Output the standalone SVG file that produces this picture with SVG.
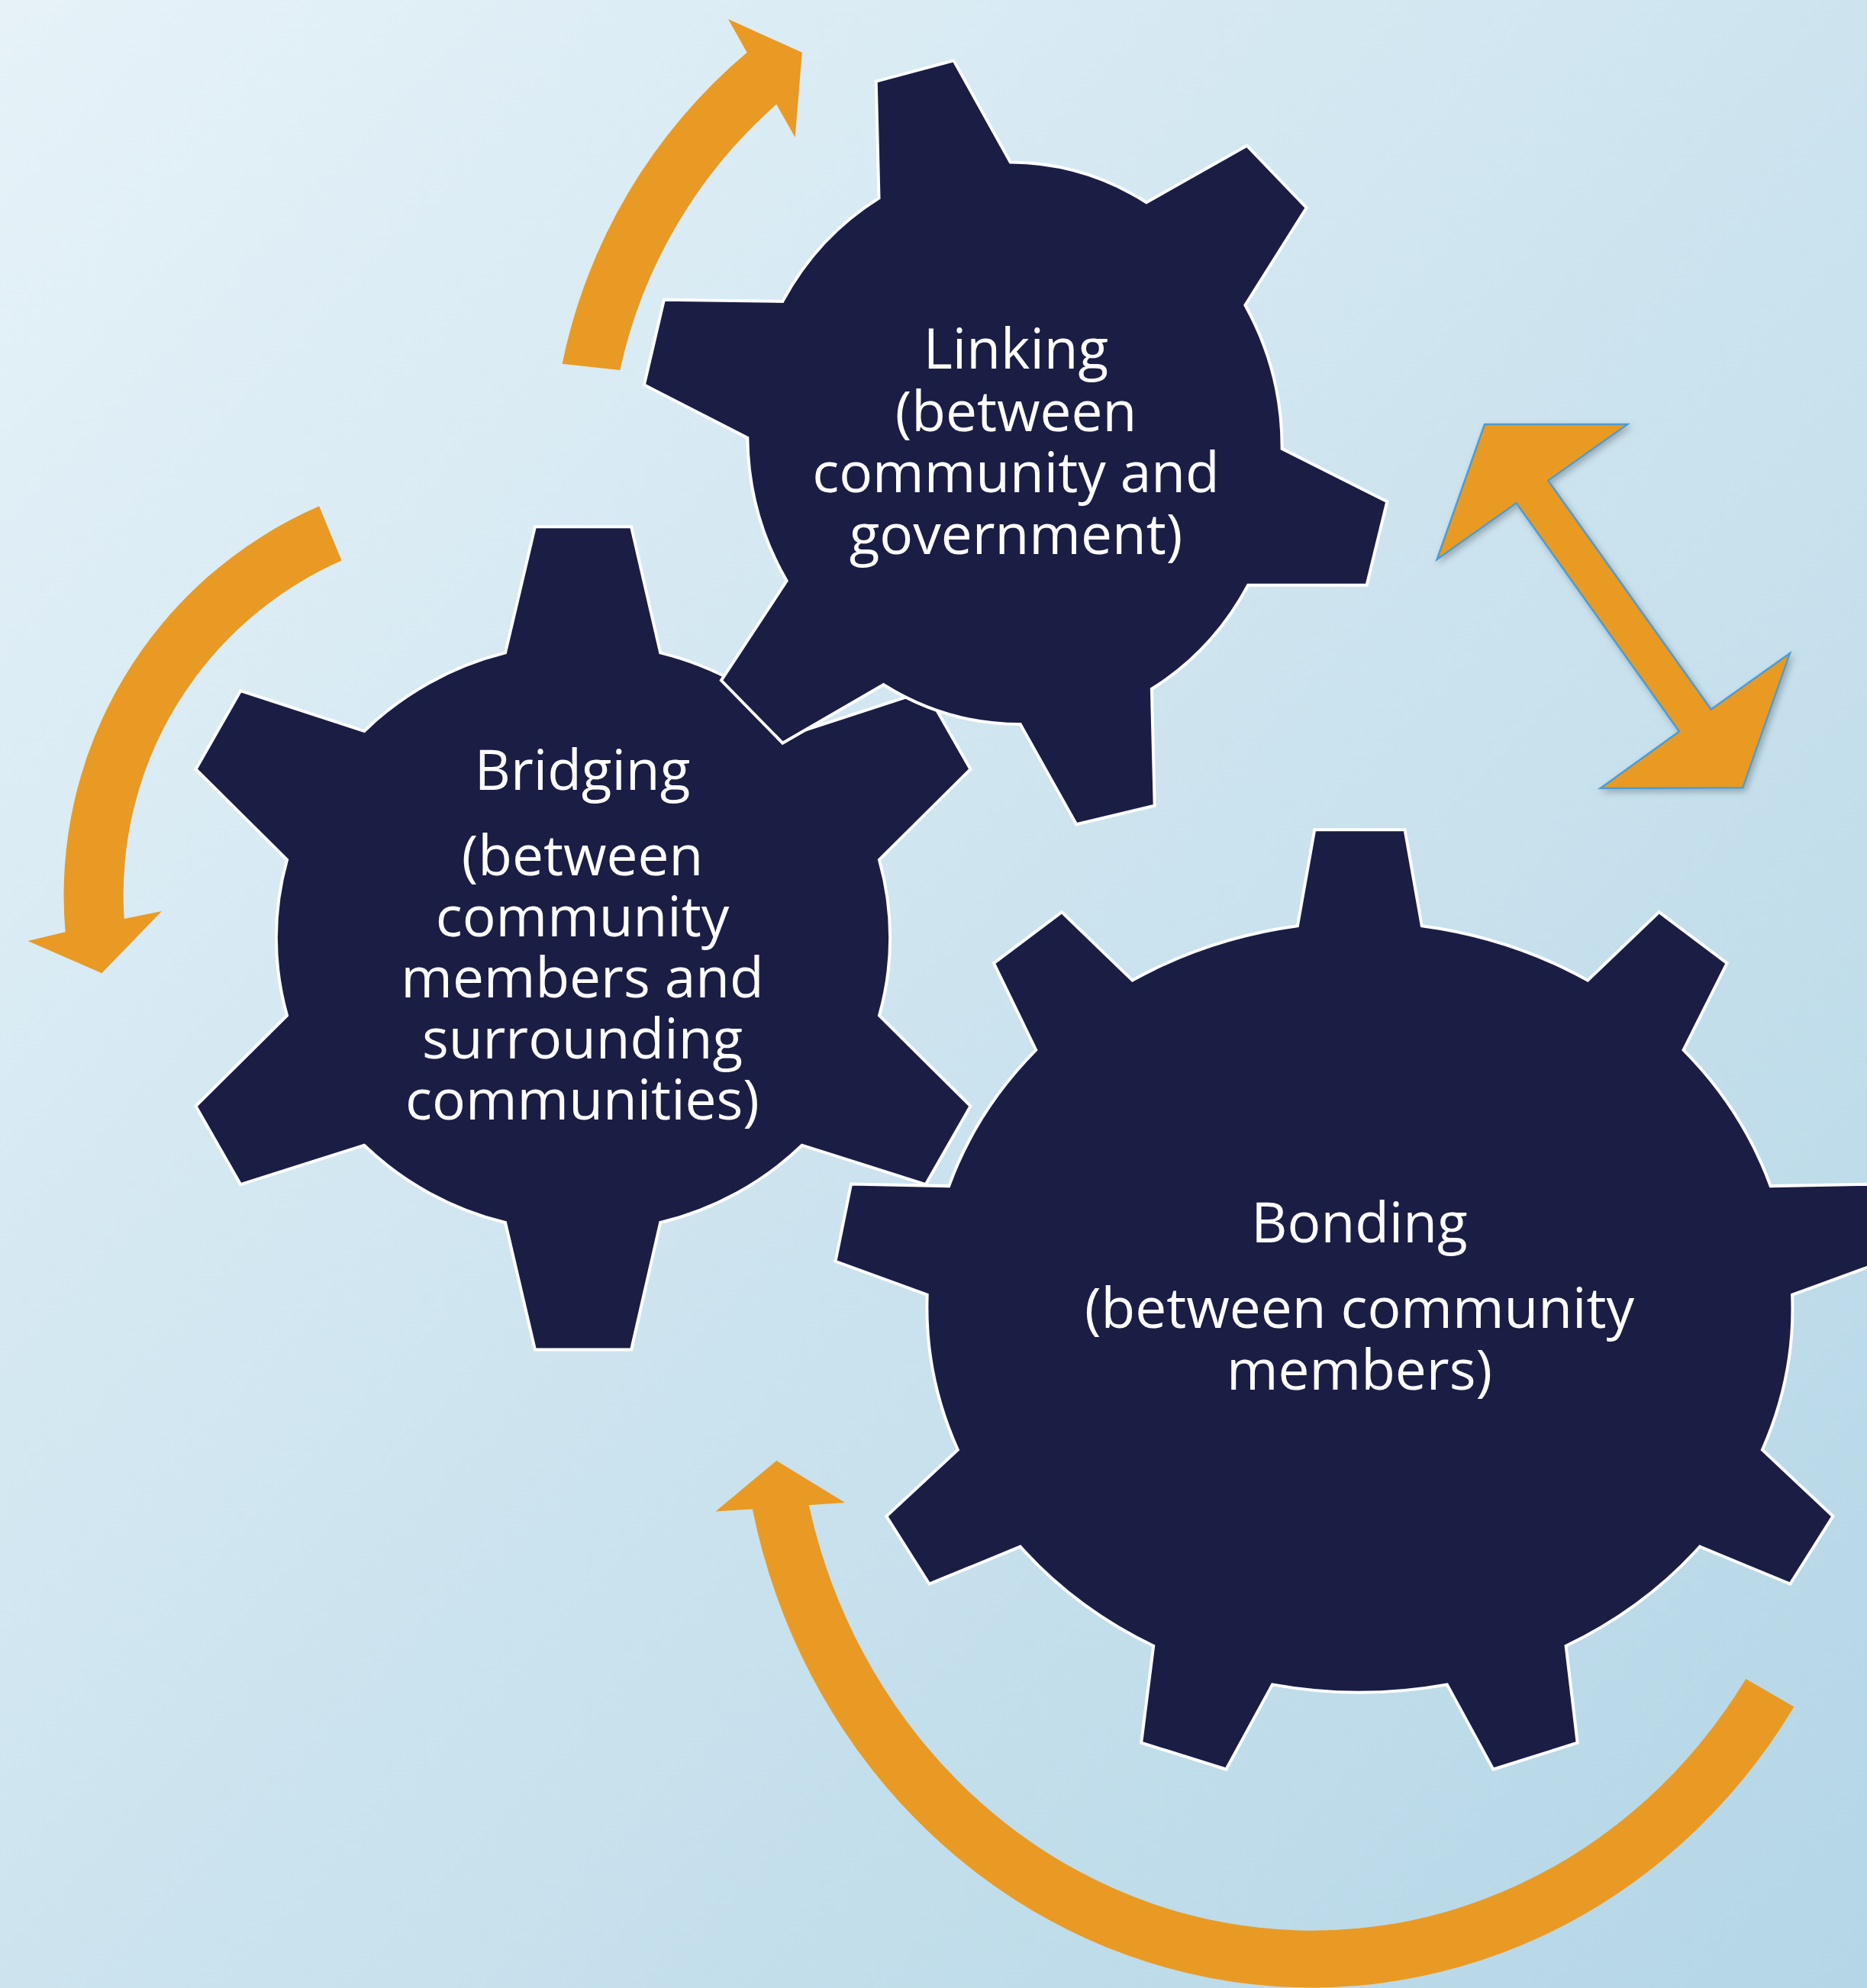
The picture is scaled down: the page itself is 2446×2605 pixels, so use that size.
<svg xmlns="http://www.w3.org/2000/svg" width="2446" height="2605" viewBox="0 0 2446 2605">
<defs>
<linearGradient id="bg" x1="0" y1="0" x2="1" y2="1">
<stop offset="0" stop-color="#E6F2F8"/>
<stop offset="1" stop-color="#B4D6E6"/>
</linearGradient>
<filter id="sh" x="-10%" y="-10%" width="130%" height="130%">
<feDropShadow dx="3" dy="4" stdDeviation="4" flood-color="#000" flood-opacity="0.25"/>
</filter>
<style>
.gear{fill:#1A1E45;stroke:#FFFFFF;stroke-width:4;stroke-linejoin:miter}
.arrow{fill:#E99A24}
.darrow{fill:#E99A24;stroke:#4F9BD0;stroke-width:2.5;filter:url(#sh)}
.lbl{font-family:"Open Sans","Noto Sans","Liberation Sans",sans-serif;font-size:73px;fill:#FFFFFF;text-anchor:middle}
</style>
</defs>
<rect x="0" y="0" width="2446" height="2605" fill="url(#bg)"/>

<g id="connectors">
<path id="arrow-top" class="arrow" d="M 736.6 476.7 A 724 724 0 0 1 978.6 68.8 L 954 24.9 L 1050.8 68.8 L 1041.7 179.9 L 1017.2 136.8 A 648 648 0 0 0 812.3 485 Z"/>
<path id="arrow-left" class="arrow" d="M 418.1 663.3 A 556 556 0 0 0 85.6 1221.3 L 36.5 1232.9 L 133.3 1275.2 L 211.9 1193.9 L 162.7 1203.9 A 478.5 478.5 0 0 1 447.6 734.6 Z"/>
<path id="arrow-bottom" class="arrow" d="M 1059.7 1972.3 L 1107 1968.9 L 1017.3 1914 L 937.5 1980.5 L 985.8 1977.6 A 749 793 0 0 0 2350.4 2236.6 L 2287.3 2200 A 677 722 0 0 1 1059.7 1972.3 Z"/>
<path id="arrow-double" class="darrow" d="M 1945 556.1 L 2132.3 556.1 L 2028.3 629.8 L 2241.7 929.4 L 2345 856.1 L 2283.3 1032.2 L 2096.7 1032.9 L 2200 958.5 L 1986.7 659.3 L 1882.7 732.9 Z"/>
</g>

<g id="gear-bonding">
<path class="gear" d="M 1722.2 1087.3 L 1840.6 1087.3 L 1862.8 1213.3 A 570 505 0 0 1 2080.1 1284.6 L 2173.6 1195.1 L 2262.6 1262.2 L 2205.6 1375.8 A 570 505 0 0 1 2319.6 1554.1 L 2447.8 1551.6 L 2468.3 1652.8 L 2348.1 1696.7 A 570 505 0 0 1 2308.9 1899.8 L 2401.4 1986.9 L 2345.4 2075.6 L 2227 2026.7 A 570 505 0 0 1 2051.6 2156.8 L 2066.7 2283.7 L 1956.3 2318.5 L 1895.8 2207.4 A 570 505 0 0 1 1667 2207.4 L 1606.4 2318.5 L 1495.2 2283.7 L 1511.2 2156.8 A 570 505 0 0 1 1336.7 2026.7 L 1217.4 2075.6 L 1161.3 1986.9 L 1254.8 1899.8 A 570 505 0 0 1 1214.7 1696.7 L 1094.5 1652.8 L 1115 1551.6 L 1243.2 1554.1 A 570 505 0 0 1 1357.2 1375.8 L 1302 1262.2 L 1391 1195.1 L 1483.6 1284.6 A 570 505 0 0 1 1699.9 1213.3 Z"/>
<text class="lbl" x="1781" y="1628">Bonding</text>
<text class="lbl" x="1781" y="1740">(between community</text>
<text class="lbl" x="1781" y="1821">members)</text>
</g>

<g id="gear-bridging">
<path class="gear" d="M 700.9 690.3 L 827.1 690.3 L 865.2 855.4 A 401 387 0 0 1 1050.7 958 L 1212.8 905.2 L 1271.5 1007.9 L 1152 1126.7 A 401 387 0 0 1 1152 1330.6 L 1271.5 1449.4 L 1212.8 1552.1 L 1050.7 1500.7 A 401 387 0 0 1 865.2 1602 L 827.1 1768.4 L 700.9 1768.4 L 662 1602 A 401 387 0 0 1 477.2 1500.7 L 315.1 1552.1 L 256.5 1449.4 L 376 1330.6 A 401 387 0 0 1 376 1126.7 L 256.5 1007.9 L 315.1 905.2 L 477.2 958 A 401 387 0 0 1 662 855.4 Z"/>
<text class="lbl" x="763" y="1035">Bridging</text>
<text class="lbl" x="763" y="1147">(between</text>
<text class="lbl" x="763" y="1227">community</text>
<text class="lbl" x="763" y="1307">members and</text>
<text class="lbl" x="763" y="1387">surrounding</text>
<text class="lbl" x="763" y="1467">communities)</text>
</g>

<g id="gear-linking">
<path class="gear" d="M 1147.7 106.6 L 1249.5 79.3 L 1323.7 212.6 A 350 368 0 0 1 1502 265.2 L 1633.7 190.8 L 1711.7 272.2 L 1631.4 399.9 A 350 368 0 0 1 1679.6 587.9 L 1817.3 657.3 L 1790.6 766.7 L 1635.2 766.7 A 350 368 0 0 1 1508.9 902.8 L 1512.7 1055.8 L 1410.2 1080.3 L 1336.7 949.1 A 350 368 0 0 1 1157.6 897.2 L 1025.3 973.7 L 944.9 891.6 L 1030.6 761.1 A 350 368 0 0 1 979.3 573.8 L 843.9 504.4 L 869.9 392.8 L 1025.3 394.9 A 350 368 0 0 1 1151.5 259.6 Z"/>
<text class="lbl" x="1331" y="483">Linking</text>
<text class="lbl" x="1331" y="565">(between</text>
<text class="lbl" x="1331" y="645">community and</text>
<text class="lbl" x="1331" y="726">government)</text>
</g>
</svg>
